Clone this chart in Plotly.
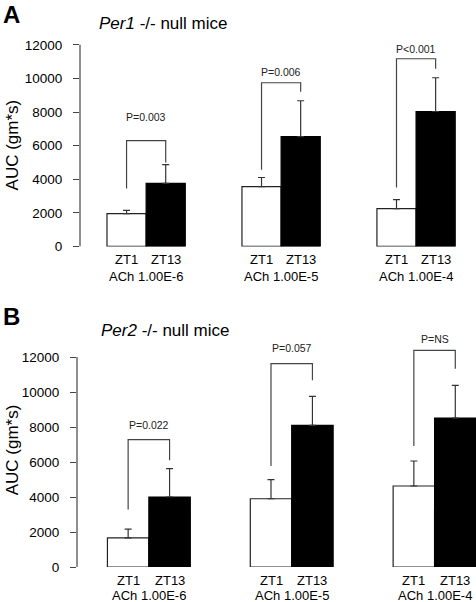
import numpy as np
import plotly.graph_objects as go

# ---------------- data ----------------
groups = [1, 2, 3]
dose_labels = ["ACh 1.00E-6", "ACh 1.00E-5", "ACh 1.00E-4"]
bar_labels = ["ZT1", "ZT13"]

# Panel A: Per1 -/- null mice
per1_zt1 = [1950, 3560, 2250]
per1_zt1_err = [200, 540, 540]
per1_zt13 = [3750, 6540, 8030]
per1_zt13_err = [1120, 2130, 2010]
per1_p = ["P=0.003", "P=0.006", "P<0.001"]
per1_brk_top = [6300, 9740, 11170]
per1_brk_left = [3450, 4570, 3500]
per1_brk_right = [4990, 9210, 10570]
per1_p_y = [7720, 10400, 11760]

# Panel B: Per2 -/- null mice
per2_zt1 = [1660, 3900, 4630]
per2_zt1_err = [510, 1090, 1430]
per2_zt13 = [4000, 8100, 8510]
per2_zt13_err = [1620, 1650, 1870]
per2_p = ["P=0.022", "P=0.057", "P=NS"]
per2_brk_top = [7280, 11620, 12380]
per2_brk_left = [3280, 5770, 6910]
per2_brk_right = [6100, 10670, 11330]
per2_p_y = [8100, 12510, 13050]

yticks = [0, 2000, 4000, 6000, 8000, 10000, 12000]
ytick_text = ["0", "2000", "4000", "6000", "8000", "10000", "12000"]

# ---------------- figure ----------------
FONT = "Liberation Sans, Arial, sans-serif"
W = 0.29
g = np.array(groups, dtype=float)
x_zt1 = g - W / 2
x_zt13 = g + W / 2

fig = go.Figure()

panels = [
    dict(xa="x", ya="y", zt1=per1_zt1, e1=per1_zt1_err, zt13=per1_zt13, e13=per1_zt13_err,
         p=per1_p, top=per1_brk_top, left=per1_brk_left, right=per1_brk_right, py=per1_p_y,
         zt_shift=-4, ach_shift=-21),
    dict(xa="x2", ya="y2", zt1=per2_zt1, e1=per2_zt1_err, zt13=per2_zt13, e13=per2_zt13_err,
         p=per2_p, top=per2_brk_top, left=per2_brk_left, right=per2_brk_right, py=per2_p_y,
         zt_shift=-4, ach_shift=-18.5),
]

annotations = []
shapes = []
for pn in panels:
    fig.add_trace(go.Bar(
        x=x_zt1, y=pn["zt1"], width=W, xaxis=pn["xa"], yaxis=pn["ya"],
        marker=dict(color="white", line=dict(color="#222", width=1.2)),
        error_y=dict(type="data", array=pn["e1"], arrayminus=[0] * 3, symmetric=False,
                     color="#333", thickness=1.2, width=3.5),
        showlegend=False, hoverinfo="skip"))
    fig.add_trace(go.Bar(
        x=x_zt13, y=pn["zt13"], width=W, xaxis=pn["xa"], yaxis=pn["ya"],
        marker=dict(color="black", line=dict(color="black", width=1.2)),
        error_y=dict(type="data", array=pn["e13"], arrayminus=[0] * 3, symmetric=False,
                     color="#333", thickness=1.2, width=3.5),
        showlegend=False, hoverinfo="skip"))
    for i in range(3):
        path = (f"M {x_zt1[i]},{pn['left'][i]} L {x_zt1[i]},{pn['top'][i]} "
                f"L {x_zt13[i]},{pn['top'][i]} L {x_zt13[i]},{pn['right'][i]}")
        shapes.append(dict(type="path", path=path, xref=pn["xa"], yref=pn["ya"],
                           line=dict(color="#444", width=1.2)))
        annotations.append(dict(x=g[i], y=pn["py"][i], xref=pn["xa"], yref=pn["ya"],
                                text=pn["p"][i], showarrow=False,
                                font=dict(family=FONT, size=10.5, color="#222")))
        for xx, lab in zip([x_zt1[i], x_zt13[i]], bar_labels):
            annotations.append(dict(x=xx, y=0, xref=pn["xa"], yref=pn["ya"], text=lab,
                                    showarrow=False, yanchor="top", yshift=pn["zt_shift"],
                                    font=dict(family=FONT, size=13, color="black")))
        annotations.append(dict(x=g[i], y=0, xref=pn["xa"], yref=pn["ya"], text=dose_labels[i],
                                showarrow=False, yanchor="top", yshift=pn["ach_shift"],
                                font=dict(family=FONT, size=13, color="black")))
    # y-axis line from 0 to 12000
    shapes.append(dict(type="line", xref=pn["xa"] + " domain", yref=pn["ya"],
                       x0=0, x1=0, y0=0, y1=12000, line=dict(color="#444", width=1.2)))

px_ann = [
    ("<b>A</b>", 11, 14, 24, 0),
    ("<b>B</b>", 11, 316, 24, 0),
    ("<i>Per1</i> -/- null mice", 163, 23, 17, 0),
    ("<i>Per2</i> -/- null mice", 165, 330, 17, 0),
    ("AUC (gm*s)", 12, 145, 17, -90),
    ("AUC (gm*s)", 12, 450, 17, -90),
]
L, T, B = 77, 27.5, 35.3
PW, PH = 476 - L, 602 - T - B
for txt, xp, yp, fs, ang in px_ann:
    annotations.append(dict(x=(xp - L) / PW, y=(602 - B - yp) / PH, xref="paper", yref="paper",
                            text=txt, showarrow=False, textangle=ang,
                            xanchor="center", yanchor="middle",
                            font=dict(family=FONT, size=fs, color="black")))

yax_common = dict(tickvals=yticks, ticktext=ytick_text, ticks="outside", ticklen=6,
                  tickcolor="#444", tickwidth=1.2, automargin=False,
                  showline=False, showgrid=False, zeroline=False, ticklabelstandoff=8,
                  tickfont=dict(family=FONT, size=13.5, color="black"))
xax_common = dict(showline=False, showgrid=False, zeroline=False, showticklabels=False,
                  ticks="", automargin=False)

fig.update_layout(
    width=476, height=602,
    margin=dict(l=L, r=0, t=T, b=B, autoexpand=False),
    paper_bgcolor="white", plot_bgcolor="white",
    barmode="overlay", showlegend=False,
    xaxis=dict(domain=[3 / PW, 1], range=[0.51, 3.444], anchor="y", **xax_common),
    yaxis=dict(domain=[0.5948, 1], range=[0, 13000], anchor="x", **yax_common),
    xaxis2=dict(domain=[0, 1], range=[0.497, 3.29], anchor="y2", **xax_common),
    yaxis2=dict(domain=[0, 0.4382], range=[0, 13500], anchor="x2", **yax_common),
    shapes=shapes, annotations=annotations,
)

fig.write_html("out.html", config={"displayModeBar": False},
               post_script="document.body.style.margin='0';document.body.style.overflow='hidden';")
